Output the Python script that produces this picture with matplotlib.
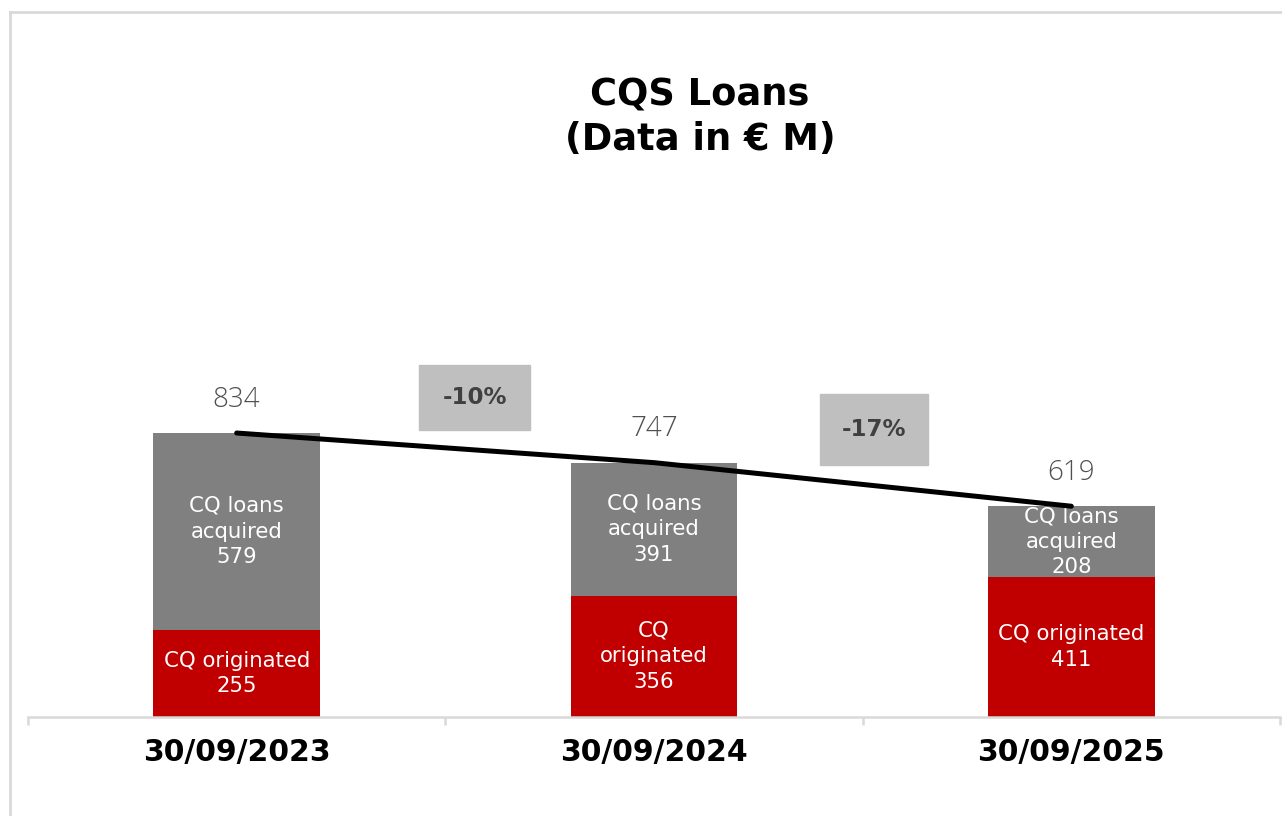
import matplotlib.pyplot as plt
from matplotlib.lines import Line2D

dates = ['30/09/2023', '30/09/2024', '30/09/2025']
originated = [255, 356, 411]
acquired = [579, 391, 208]
totals = [834, 747, 619]
orig_labels = ['CQ originated\n255', 'CQ\noriginated\n356', 'CQ originated\n411']
acq_labels = ['CQ loans\nacquired\n579', 'CQ loans\nacquired\n391', 'CQ loans\nacquired\n208']
changes = ['-10%', '-17%']

RED = '#C00000'
GREY = '#808080'
LIGHT = '#D9D9D9'

fig = plt.figure(figsize=(12.82, 8.16), dpi=100)
ax = fig.add_axes([28 / 1282, 1 - 717 / 816, 1252 / 1282, 617 / 816])

x = range(len(dates))
ax.bar(x, originated, width=0.4, color=RED, zorder=2)
ax.bar(x, acquired, width=0.4, bottom=originated, color=GREY, zorder=2)

# labels inside the segments
for i in x:
    ax.text(i, originated[i] / 2, orig_labels[i], ha='center', va='center',
            color='white', fontsize=15.3, linespacing=1.35, zorder=4)
    ax.text(i, originated[i] + acquired[i] / 2, acq_labels[i], ha='center', va='center',
            color='white', fontsize=15.3, linespacing=1.35, zorder=4)
    ax.annotate(str(totals[i]), (i, totals[i]), xytext=(0, 24), textcoords='offset points',
                ha='center', va='center', color='#505050', fontsize=20,
                fontweight='light', family=['Open Sans', 'DejaVu Sans'])

# trend line across totals
ax.plot(list(x), totals, color='black', lw=3.6, solid_capstyle='round', zorder=5)

# growth boxes
boxes = [(0.437, 843, 0.266, 191), (1.397, 740, 0.259, 209)]
for (bx, by, bw, bh), txt in zip(boxes, changes):
    ax.add_patch(plt.Rectangle((bx, by), bw, bh, color='#BFBFBF', zorder=3))
    ax.text(bx + bw / 2, by + bh / 2, txt, ha='center', va='center',
            fontsize=16.5, fontweight='bold', color='#404040', zorder=4)

ax.set_xlim(-0.5, 2.5)
ax.set_ylim(0, 1812)
ax.set_yticks([])
for s in ['left', 'right', 'top']:
    ax.spines[s].set_visible(False)
ax.spines['bottom'].set_color(LIGHT)
ax.spines['bottom'].set_linewidth(1.8)

ax.set_xticks(list(x))
ax.set_xticklabels(dates, fontsize=21.5, fontweight='bold')
ax.tick_params(axis='x', which='major', length=0, pad=15)
ax.set_xticks([-0.5, 0.5, 1.5, 2.5], minor=True)
ax.tick_params(axis='x', which='minor', length=6, width=1.8, color=LIGHT)

fig.text(700 / 1282, 1 - 117.5 / 816, 'CQS Loans\n(Data in € M)', ha='center', va='center',
         fontsize=26.5, fontweight='bold', linespacing=1.25)

# outer frame
fig.add_artist(Line2D([10 / 1282, 10 / 1282], [0, 1 - 12 / 816], transform=fig.transFigure,
                      color=LIGHT, lw=2))
fig.add_artist(Line2D([10 / 1282, 1], [1 - 12 / 816, 1 - 12 / 816], transform=fig.transFigure,
                      color=LIGHT, lw=2))

fig.savefig('out.png', dpi=100)
